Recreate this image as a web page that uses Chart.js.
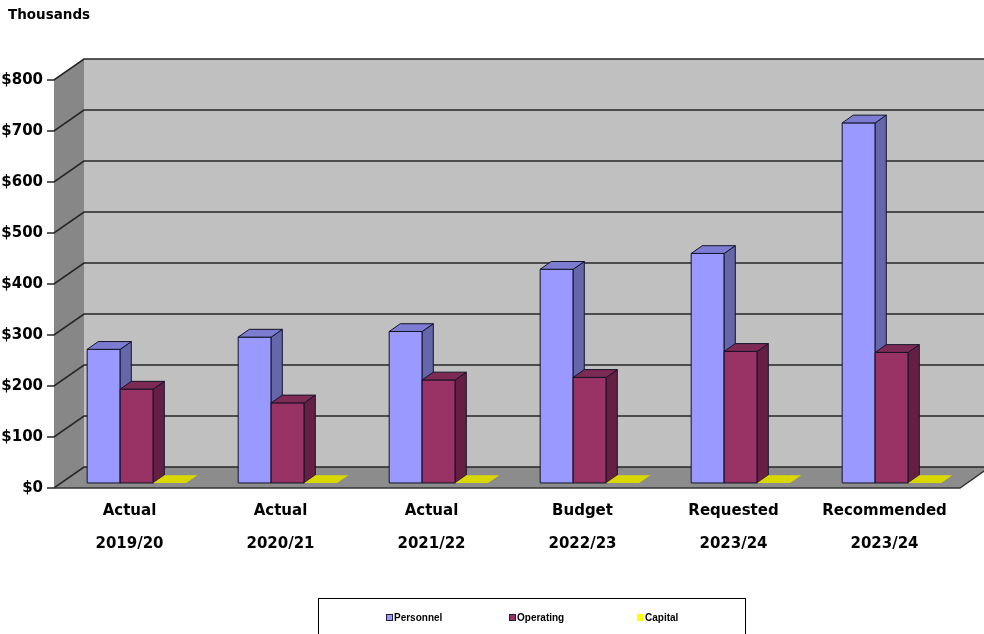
<!DOCTYPE html>
<html>
<head>
<meta charset="utf-8">
<script src="https://cdn.jsdelivr.net/npm/chart.js@4.4.1/dist/chart.umd.min.js"></script>
<style>
  html, body { margin: 0; padding: 0; background: #fff; }
  #wrap { width: 984px; height: 634px; }
</style>
</head>
<body>
<div id="wrap"><canvas id="grafico"></canvas></div>
<script>
// values in thousands of dollars
const categorias = [
    ['Actual', '2019/20'],
    ['Actual', '2020/21'],
    ['Actual', '2021/22'],
    ['Budget', '2022/23'],
    ['Requested', '2023/24'],
    ['Recommended', '2023/24']
];
const personnel = [262, 286, 297, 419, 450, 706];
const operating = [184, 157, 202, 207, 258, 256];
const capital = [0, 0, 0, 0, 0, 0];
const yMax = 800;
const yPasso = 100;

// colours of each series: front, top and side faces
const cores = [
    { frente: '#9999ff', topo: '#7c7cd2', lado: '#6666aa' },
    { frente: '#993366', topo: '#7d2a55', lado: '#661f44' },
    { frente: '#ffff00', topo: '#d8d800', lado: '#aaaa00' }
];

// depth of the 3D box, and where the bars sit inside it
const prof = { dx: 30, dy: -21 };
const deslocBarra = 0.24;
const fundoBarra = 0.37;

const fonte = "'DejaVu Sans', sans-serif";

function poligono(ctx, pts, fill, stroke) {
    ctx.beginPath();
    ctx.moveTo(pts[0][0], pts[0][1]);
    for (let i = 1; i < pts.length; i++) ctx.lineTo(pts[i][0], pts[i][1]);
    ctx.closePath();
    if (fill) { ctx.fillStyle = fill; ctx.fill(); }
    if (stroke) { ctx.strokeStyle = stroke; ctx.stroke(); }
}

const caixa3d = {
    id: 'caixa3d',
    beforeDatasetsDraw(chart) {
        const { ctx, chartArea: a, scales: { y } } = chart;
        const L = a.left, R = a.right, T = a.top, B = a.bottom;
        const dx = prof.dx, dy = prof.dy;
        ctx.save();
        // left wall, back wall and floor
        poligono(ctx, [[L, T], [L + dx, T + dy], [L + dx, B + dy], [L, B]], '#878787');
        poligono(ctx, [[L + dx, T + dy], [R + dx, T + dy], [R + dx, B + dy], [L + dx, B + dy]], '#c0c0c0');
        poligono(ctx, [[L, B], [R, B], [R + dx, B + dy], [L + dx, B + dy]], '#8c8c8c');

        // gridlines run across the left wall and the back wall
        ctx.strokeStyle = '#262626';
        ctx.lineWidth = 1.6;
        y.ticks.forEach(t => {
            const py = y.getPixelForValue(t.value);
            ctx.beginPath();
            ctx.moveTo(L - 7, py);
            ctx.lineTo(L, py);
            ctx.lineTo(L + dx, py + dy);
            ctx.lineTo(R + dx, py + dy);
            ctx.stroke();
        });
        // front edge of the floor
        ctx.lineWidth = 1.4;
        ctx.strokeStyle = '#333';
        ctx.beginPath();
        ctx.moveTo(L, B);
        ctx.lineTo(R, B);
        ctx.lineTo(R + dx, B + dy);
        ctx.stroke();
        ctx.restore();
    },
    beforeDatasetDraw() {
        // the plain 2D bars are replaced by the 3D ones below
        return false;
    },
    afterDatasetsDraw(chart) {
        const ctx = chart.ctx;
        const sx = prof.dx * deslocBarra, sy = prof.dy * deslocBarra;
        const ddx = prof.dx * fundoBarra, ddy = prof.dy * fundoBarra;
        ctx.save();
        ctx.lineWidth = 1;
        ctx.lineJoin = 'round';
        chart.data.datasets.forEach((ds, i) => {
            const cor = cores[i];
            const borda = i === 2 ? null : '#141428';
            chart.getDatasetMeta(i).data.forEach(bar => {
                const { x, y, base, width } = bar.getProps(['x', 'y', 'base', 'width'], true);
                const x0 = x - width / 2 + sx, x1 = x + width / 2 + sx;
                const yt = y + sy, yb = base + sy;
                if (yb - yt > 0.5) {
                    poligono(ctx, [[x0, yt], [x1, yt], [x1, yb], [x0, yb]], cor.frente, borda);
                    poligono(ctx, [[x1, yt], [x1 + ddx, yt + ddy], [x1 + ddx, yb + ddy], [x1, yb]], cor.lado, borda);
                }
                poligono(ctx, [[x0, yt], [x1, yt], [x1 + ddx, yt + ddy], [x0 + ddx, yt + ddy]], cor.topo, borda);
            });
        });
        ctx.restore();
    },
    afterDraw(chart) {
        const ctx = chart.ctx;
        ctx.save();
        ctx.fillStyle = '#000';
        ctx.font = 'bold 13.5px ' + fonte;
        ctx.textBaseline = 'middle';
        ctx.fillText('Thousands', 8, 15);

        // legend box
        ctx.fillStyle = '#fff';
        ctx.fillRect(318.5, 598.5, 427, 40);
        ctx.strokeStyle = '#000';
        ctx.lineWidth = 1;
        ctx.strokeRect(318.5, 598.5, 427, 40);
        const itens = [
            { nome: 'Personnel', x: 386 },
            { nome: 'Operating', x: 509 },
            { nome: 'Capital', x: 637 }
        ];
        ctx.font = "bold 10px 'Liberation Sans', sans-serif";
        itens.forEach((it, i) => {
            ctx.fillStyle = cores[i].frente;
            ctx.fillRect(it.x, 614, 7, 7);
            if (i < 2) {
                ctx.strokeStyle = '#1e1e3a';
                ctx.strokeRect(it.x + 0.5, 614.5, 6, 6);
            }
            ctx.fillStyle = '#000';
            ctx.fillText(it.nome, it.x + 8, 618);
        });
        ctx.restore();
    }
};

const graficoOrcamento = new Chart(document.getElementById('grafico'), {
    type: 'bar',
    data: {
        labels: categorias,
        datasets: [
            { label: 'Personnel', data: personnel, backgroundColor: cores[0].frente },
            { label: 'Operating', data: operating, backgroundColor: cores[1].frente },
            { label: 'Capital', data: capital, backgroundColor: cores[2].frente }
        ]
    },
    options: {
        responsive: true,
        maintainAspectRatio: false,
        animation: false,
        events: [],
        layout: { padding: { top: 80, right: 24, bottom: 46, left: 0 } },
        datasets: { bar: { categoryPercentage: 0.656, barPercentage: 1 } },
        plugins: { legend: { display: false }, tooltip: { enabled: false } },
        scales: {
            x: {
                grid: { display: false, drawTicks: false },
                border: { display: false },
                ticks: {
                    color: '#000',
                    padding: 6.5,
                    maxRotation: 0,
                    font: { family: fonte, size: 15, weight: 'bold', lineHeight: 33 / 15 }
                },
                afterFit(scale) { scale.height = 100; }
            },
            y: {
                min: 0,
                max: yMax,
                grid: { display: false, drawTicks: false },
                border: { display: false },
                ticks: {
                    stepSize: yPasso,
                    color: '#000',
                    padding: 11,
                    font: { family: fonte, size: 15, weight: 'bold' },
                    callback: v => '$' + v
                },
                afterFit(scale) { scale.width = 54; }
            }
        }
    },
    plugins: [caixa3d]
});
</script>
</body>
</html>
